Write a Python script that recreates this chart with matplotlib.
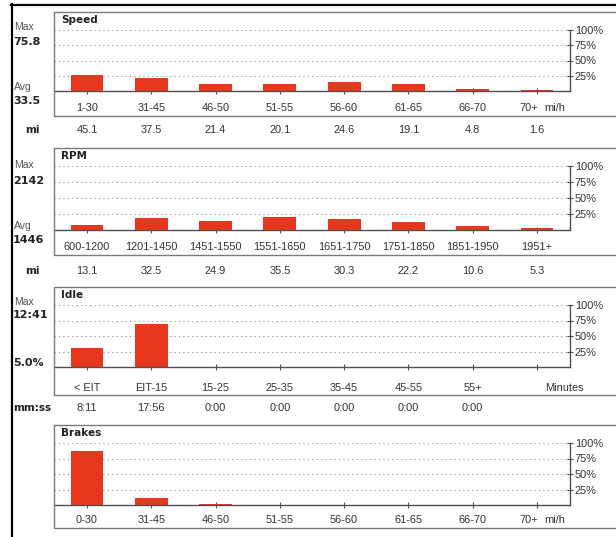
import matplotlib
matplotlib.use("Agg")
import matplotlib.pyplot as plt
from matplotlib.patches import Rectangle
from matplotlib.lines import Line2D
import matplotlib.transforms as mtransforms

W, H = 616, 537

# ---------------- data ----------------
speed_cats = ["1-30", "31-45", "46-50", "51-55", "56-60", "61-65", "66-70", "70+"]
speed_mi = [45.1, 37.5, 21.4, 20.1, 24.6, 19.1, 4.8, 1.6]
speed_max = "75.8"
speed_avg = "33.5"

rpm_cats = ["600-1200", "1201-1450", "1451-1550", "1551-1650", "1651-1750",
            "1751-1850", "1851-1950", "1951+"]
rpm_mi = [13.1, 32.5, 24.9, 35.5, 30.3, 22.2, 10.6, 5.3]
rpm_max = "2142"
rpm_avg = "1446"

idle_cats = ["< EIT", "EIT-15", "15-25", "25-35", "35-45", "45-55", "55+"]
idle_time = ["8:11", "17:56", "0:00", "0:00", "0:00", "0:00", "0:00"]
idle_max = "12:41"
idle_pct = "5.0%"

brake_cats = ["0-30", "31-45", "46-50", "51-55", "56-60", "61-65", "66-70", "70+"]
brake_pct = [87, 11.5, 1.5, 0, 0, 0, 0, 0]

pct_ticks = [25, 50, 75, 100]
pct_labels = ["25%", "50%", "75%", "100%"]


def shares(vals):
    tot = sum(vals)
    return [v / tot * 100 for v in vals]


def secs(t):
    m, s = t.split(":")
    return int(m) * 60 + int(s)


speed_pct = shares(speed_mi)
rpm_pct = shares(rpm_mi)
idle_pct_vals = shares([secs(t) for t in idle_time])

# ---------------- figure ----------------
fig = plt.figure(figsize=(W / 100, H / 100), dpi=100)
fig.patch.set_facecolor("white")

FONT = "Liberation Sans"
BAR = "#e8371f"
AX = "#505050"
TXT = "#333333"
FS = 7.9


def fx(x):
    return x / W


def fy(y):
    return 1 - y / H


# outer frame
fig.add_artist(Line2D([fx(12), fx(12)], [fy(4), fy(537)], color="black", lw=1.6))
fig.add_artist(Line2D([fx(11), fx(616)], [fy(4.5), fy(4.5)], color="black", lw=1.6))


def panel(title, cats, pct, top, y100, y0, label_y, bottom, unit=None,
          unit_x=None, ntick=8):
    # box
    fig.add_artist(Rectangle((fx(54), fy(bottom)), fx(620) - fx(54),
                             fy(top) - fy(bottom), transform=fig.transFigure,
                             fill=False, ec="#7a7a7a", lw=1.0))
    fig.text(fx(61), fy(top + 8), title, fontsize=7.5, fontweight="bold",
             family="DejaVu Sans", color="#222222", va="center", ha="left")
    ax = fig.add_axes([fx(54), fy(y0), fx(570) - fx(54), fy(y100) - fy(y0)])
    ax.set_facecolor("none")
    ax.set_xlim(-0.513, 7.513)
    ax.set_ylim(0, 100)
    for y in pct_ticks:
        ax.axhline(y, color="#8a8a8a", lw=0.8, ls=(0, (1, 3)), zorder=0)
    xs = list(range(len(pct)))
    ax.bar(xs, pct, width=0.51, color=BAR, zorder=2)
    for s in ["top", "left"]:
        ax.spines[s].set_visible(False)
    ax.spines["bottom"].set_color(AX)
    ax.spines["right"].set_color(AX)
    ax.spines["bottom"].set_linewidth(1.0)
    ax.spines["right"].set_linewidth(1.0)
    ax.set_xticks(range(ntick))
    ax.set_xticklabels([])
    ax.tick_params(axis="x", direction="inout", length=5, color=AX, width=0.8)
    ax.yaxis.tick_right()
    ax.set_yticks(pct_ticks)
    ax.set_yticklabels(pct_labels, fontsize=FS, family=FONT, color=TXT)
    ax.tick_params(axis="y", direction="inout", length=5, color=AX, width=0.8,
                   pad=1)
    trans = mtransforms.blended_transform_factory(ax.transData, fig.transFigure)
    for i, c in enumerate(cats):
        last_with_unit = unit is not None and i == len(cats) - 1 and len(cats) == ntick
        if last_with_unit:
            ax.text(i + 0.02, fy(label_y), c, transform=trans, fontsize=FS,
                    family=FONT, color=TXT, ha="right", va="center")
        else:
            ax.text(i, fy(label_y), c, transform=trans, fontsize=FS,
                    family=FONT, color=TXT, ha="center", va="center")
    if unit:
        fig.text(fx(unit_x), fy(label_y), unit, fontsize=FS, family=FONT,
                 color=TXT, ha="left", va="center")
    return ax, trans


def values_row(ax, trans, label, vals, y):
    fig.text(fx(32), fy(y), label, fontsize=7.5, fontweight="bold",
             family="DejaVu Sans", color="#222222", ha="center", va="center")
    for i, v in enumerate(vals):
        ax.text(i, fy(y), v, transform=trans, fontsize=FS, family=FONT,
                color=TXT, ha="center", va="center")


def side(label, value, y_lab, y_val):
    if label:
        fig.text(fx(14), fy(y_lab), label, fontsize=7.5, family=FONT,
                 color="#555555", ha="left", va="center")
    fig.text(fx(13), fy(y_val), value, fontsize=8, fontweight="bold",
             family="DejaVu Sans", color="#222222", ha="left", va="center")


# Speed
ax, tr = panel("Speed", speed_cats, speed_pct, 12, 30, 91, 108, 116,
               unit="mi/h", unit_x=544)
values_row(ax, tr, "mi", [f"{v:.1f}" for v in speed_mi], 130)
side("Max", speed_max, 27, 42)
side("Avg", speed_avg, 87, 101)

# RPM
ax, tr = panel("RPM", rpm_cats, rpm_pct, 148, 166, 230, 247, 255)
values_row(ax, tr, "mi", [f"{v:.1f}" for v in rpm_mi], 271)
side("Max", rpm_max, 165, 181)
side("Avg", rpm_avg, 226, 240)

# Idle
ax, tr = panel("Idle", idle_cats, idle_pct_vals, 287, 305, 367, 388, 395,
               unit="Minutes", unit_x=545)
values_row(ax, tr, "mm:ss", idle_time, 408)
side("Max", idle_max, 302, 315)
side(None, idle_pct, None, 363)

# Brakes
ax, tr = panel("Brakes", brake_cats, brake_pct, 425, 443, 505, 520, 528,
               unit="mi/h", unit_x=544)

fig.savefig("out.png", dpi=100, facecolor="white")
